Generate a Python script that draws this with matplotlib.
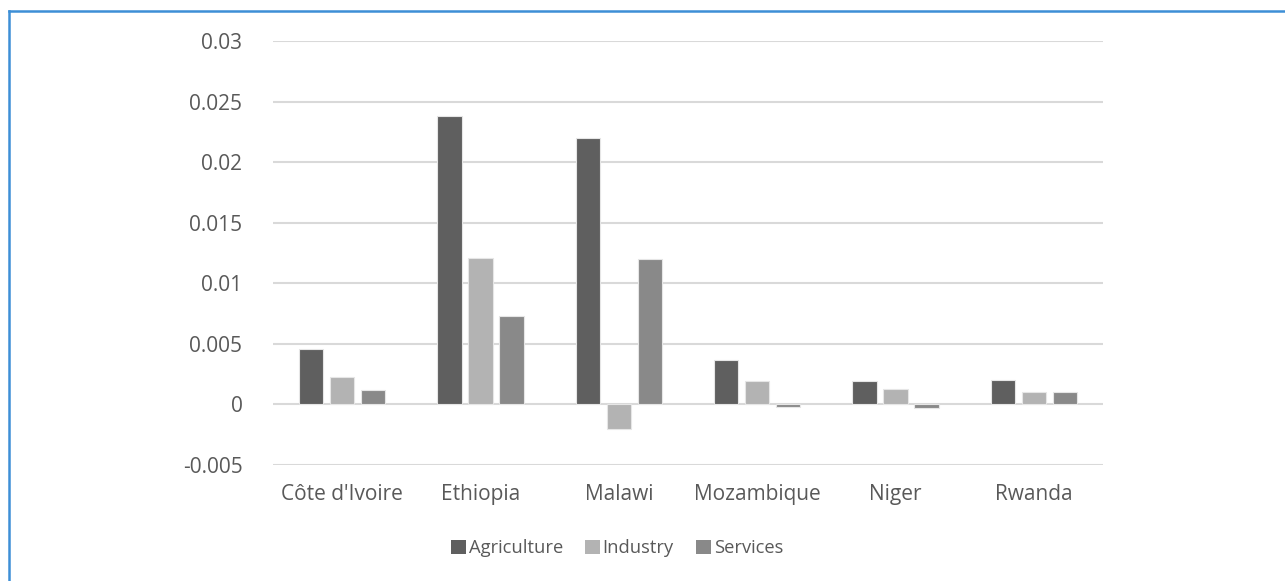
import matplotlib
matplotlib.use("Agg")
import matplotlib.pyplot as plt
import numpy as np
from matplotlib.patches import Rectangle
from matplotlib.lines import Line2D

countries = ["Côte d'Ivoire", "Ethiopia", "Malawi", "Mozambique", "Niger", "Rwanda"]
agriculture = [0.0046, 0.0238, 0.0220, 0.0037, 0.0019, 0.0020]
industry = [0.0023, 0.0121, -0.0020, 0.0019, 0.0013, 0.0010]
services = [0.0012, 0.0073, 0.0120, -0.0002, -0.0003, 0.0010]

series_names = ["Agriculture", "Industry", "Services"]
series_values = [agriculture, industry, services]
series_colors = ["#5f5f5f", "#b3b3b3", "#898989"]

yticks = [-0.005, 0, 0.005, 0.01, 0.015, 0.02, 0.025, 0.03]
ytick_labels = ["-0.005", "0", "0.005", "0.01", "0.015", "0.02", "0.025", "0.03"]

plt.rcParams["font.family"] = ["Open Sans", "DejaVu Sans"]
text_color = "#595959"

W, H = 1285, 581
fig = plt.figure(figsize=(W / 100, H / 100), dpi=100)

# axes placement in pixels
left_px, right_px, top_px, bottom_px = 273, 1103, 41, 465
ax = fig.add_axes([left_px / W, 1 - bottom_px / H,
                   (right_px - left_px) / W, (bottom_px - top_px) / H])

x = np.arange(len(countries))
bar_w = 0.174
step = 0.224
for i, (vals, color) in enumerate(zip(series_values, series_colors)):
    ax.bar(x + (i - 1) * step, vals, width=bar_w, color=color,
           edgecolor="#e6e6e6", linewidth=0.8, zorder=3)

ax.set_xlim(-0.5, len(countries) - 0.5)
ax.set_ylim(-0.005, 0.03)
ax.set_yticks(yticks)
ax.set_yticklabels(ytick_labels)
ax.set_xticks(x)
ax.set_xticklabels(countries)

for y in yticks:
    ax.axhline(y, color="#d9d9d9", linewidth=1.5, zorder=1)

for s in ax.spines.values():
    s.set_visible(False)
ax.tick_params(axis="both", length=0, colors=text_color, labelsize=15)
ax.tick_params(axis="y", pad=22)
ax.tick_params(axis="x", pad=14)

handles = [Rectangle((0, 0), 1, 1, facecolor=c, edgecolor="none") for c in series_colors]
leg = fig.legend(handles, series_names, loc="center", bbox_to_anchor=(617 / W, 1 - 548 / H),
                 ncol=3, frameon=False, fontsize=13.2, handlelength=0.82,
                 handleheight=0.82, handletextpad=0.15, columnspacing=1.2)
for t in leg.get_texts():
    t.set_color(text_color)

# outer chart frame
fig.add_artist(Line2D([9 / W, 9 / W], [0, 1 - 11 / H], transform=fig.transFigure,
                      color="#3d8fd6", linewidth=1.8))
fig.add_artist(Line2D([9 / W, 1], [1 - 11 / H, 1 - 11 / H], transform=fig.transFigure,
                      color="#3d8fd6", linewidth=1.8))

fig.savefig("out.png", dpi=100, facecolor="white")
